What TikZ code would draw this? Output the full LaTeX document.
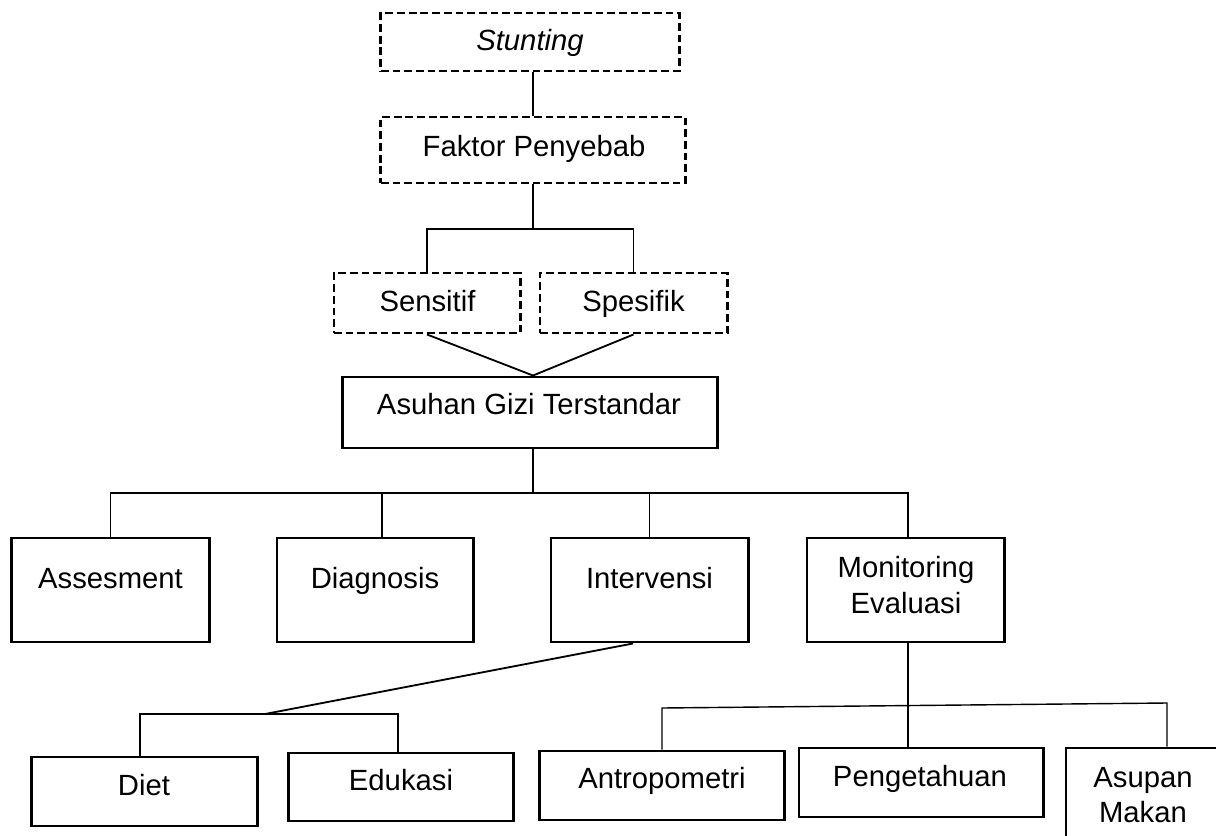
\documentclass[tikz,border=0pt]{standalone}
\usepackage{fontspec}
\setmainfont{Liberation Sans}
\usetikzlibrary{calc}
\begin{document}
\begin{tikzpicture}[x=0.025cm,y=-0.025cm,
  box/.style={draw, line width=2.1pt, inner sep=0pt},
  dbox/.style={box, dash pattern=on 5.5pt off 2.8pt},
  txt/.style={anchor=base, inner sep=0pt, font=\fontsize{20.8}{25}\selectfont},
  conn/.style={line width=1.0pt},
  diagline/.style={line width=1.3pt}]
\path[use as bounding box] (0,0) rectangle (1216,835);
\clip (0,0) rectangle (1216,835);

% boxes
\node[dbox, minimum width=7.45cm, minimum height=1.45cm] (stunt) at (530,42) {};
\node[dbox, minimum width=7.6cm, minimum height=1.65cm] (faktor) at (533,150) {};
\node[dbox, minimum width=4.65cm, minimum height=1.5cm] (sens) at (427,303) {};
\node[dbox, minimum width=4.675cm, minimum height=1.5cm] (spes) at (633.5,303) {};
\node[box, minimum width=9.35cm, minimum height=1.775cm] (asuhan) at (530,412.5) {};
\node[box, minimum width=4.925cm, minimum height=2.6cm] (asses) at (110.5,590) {};
\node[box, minimum width=4.9cm, minimum height=2.6cm] (diag) at (375,590) {};
\node[box, minimum width=4.925cm, minimum height=2.6cm] (interv) at (649.5,590) {};
\node[box, minimum width=4.925cm, minimum height=2.6cm] (monev) at (905.5,590) {};
\node[box, minimum width=5.625cm, minimum height=1.725cm] (diet) at (144.5,791.5) {};
\node[box, minimum width=5.6cm, minimum height=1.7cm] (eduk) at (401,787) {};
\node[box, minimum width=6.1cm, minimum height=1.725cm] (antro) at (662,785.5) {};
\node[box, minimum width=6.1cm, minimum height=1.725cm] (peng) at (921,782.5) {};
\node[box, minimum width=4.0cm, minimum height=2.55cm] (asupan) at (1146,799) {};

% texts
\node[txt] (tstunt) at (530,50) {\itshape Stunting};
\node[txt] (tfaktor) at (534,156) {Faktor Penyebab};
\node[txt] (tsens) at (427.5,311) {Sensitif};
\node[txt] (tspes) at (633.5,311) {Spesifik};
\node[txt] (tasuhan) at (529,414) {Asuhan Gizi Terstandar};
\node[txt] (tasses) at (110.5,588) {Assesment};
\node[txt] (tdiag) at (375,588) {Diagnosis};
\node[txt] (tinterv) at (649.5,588) {Intervensi};
\node[txt] (tmon) at (906,577) {Monitoring};
\node[txt] (teval) at (906,613) {Evaluasi};
\node[txt] (tdiet) at (144,795) {Diet};
\node[txt] (teduk) at (401,790) {Edukasi};
\node[txt] (tantro) at (662,788) {Antropometri};
\node[txt] (tpeng) at (920,786) {Pengetahuan};
\node[txt] (tasupan) at (1143,787) {Asupan};
\node[txt] (tmakan) at (1143,822) {Makan};

% connectors
\draw[conn] (faktor.north |- stunt.south) -- (faktor.north);
\coordinate (j1) at (533,229);
\draw[conn] (faktor.south) -- (j1);
\draw[conn] (sens.north) |- (j1) -| (spes.north);
\coordinate (apex) at ($(asuhan.north)+(3,0)$);
\draw[diagline] (sens.south) -- (apex) -- (spes.south);

\coordinate (j2) at (533,493);
\draw[conn] (j2 |- asuhan.south) -- (j2);
\coordinate (mtop) at ($(monev.north)+(2.5,0)$);
\coordinate (dtop) at ($(diag.north)+(7,0)$);
\draw[conn] (asses.north) |- (mtop |- j2) -- (mtop);
\draw[conn] (dtop) -- (dtop |- j2);
\draw[conn] (interv.north) -- (interv.north |- j2);

\coordinate (ibot) at ($(interv.south)+(-16.5,0)$);
\coordinate (j3) at (265,714);
\coordinate (dtt) at ($(diet.north)+(-4.5,0)$);
\coordinate (ett) at ($(eduk.north)+(-3,0)$);
\draw[diagline] (ibot) -- (j3);
\draw[conn] (dtt) |- (j3) -| (ett);

\coordinate (mbot) at (mtop |- monev.south);
\draw[conn] (mbot) -- (mbot |- peng.north);
\coordinate (hl) at (662,708);
\coordinate (hr) at (1167,703);
\draw[conn] (antro.north) -- (hl) -- (hr) -- (hr |- asupan.north);
\end{tikzpicture}
\end{document}
